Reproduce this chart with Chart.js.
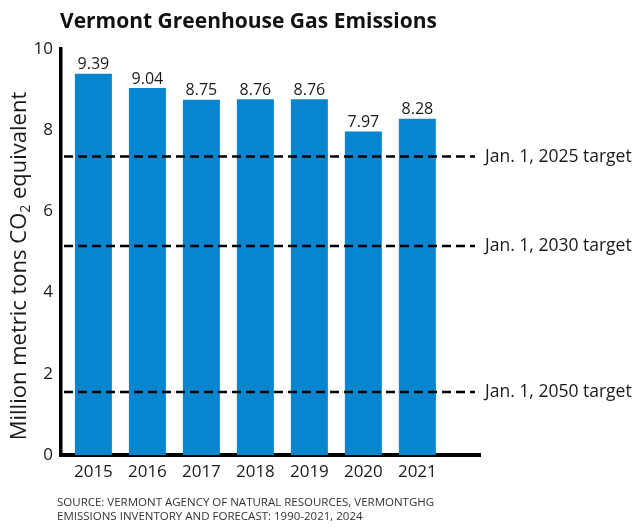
<!DOCTYPE html>
<html>
<head>
<meta charset="utf-8">
<script src="https://cdn.jsdelivr.net/npm/chart.js@4"></script>
<style>
  html, body { margin: 0; padding: 0; background: #fff; }
  #wrap { width: 640px; height: 530px; position: relative; }
</style>
</head>
<body>
<div id="wrap"><canvas id="c" width="640" height="530"></canvas></div>
<script>
const years = [2015, 2016, 2017, 2018, 2019, 2020, 2021];
const emissions = [9.39, 9.04, 8.75, 8.76, 8.76, 7.97, 8.28];
const yTicks = [0, 2, 4, 6, 8, 10];
const targetValues = [7.35, 5.15, 1.55];
const targetLabels = ['Jan. 1, 2025 target', 'Jan. 1, 2030 target', 'Jan. 1, 2050 target'];
const titleText = 'Vermont Greenhouse Gas Emissions';
const yTitleParts = ['Million metric tons CO', '2', ' equivalent'];
const sourceLines = ['SOURCE: VERMONT AGENCY OF NATURAL RESOURCES, VERMONTGHG',
                     'EMISSIONS INVENTORY AND FORECAST: 1990-2021, 2024'];

const FONT = '"Open Sans", "Noto Sans", sans-serif';
const BAR = '#0786cf';

const extras = {
  id: 'extras',
  afterDatasetsDraw(chart) {
    const ctx = chart.ctx;
    const area = chart.chartArea;
    const y = chart.scales.y;
    // value labels
    const meta = chart.getDatasetMeta(0);
    ctx.save();
    ctx.fillStyle = '#1a1a1a';
    ctx.font = '16px ' + FONT;
    ctx.textAlign = 'center';
    ctx.textBaseline = 'bottom';
    meta.data.forEach((bar, i) => {
      ctx.fillText(emissions[i].toFixed(2), bar.x, bar.y - 1);
    });
    // target lines
    ctx.strokeStyle = '#000';
    ctx.lineWidth = 2.5;
    ctx.setLineDash([9, 5]);
    ctx.font = '17.5px ' + FONT;
    ctx.textAlign = 'left';
    ctx.textBaseline = 'middle';
    targetValues.forEach((v, i) => {
      const py = y.getPixelForValue(v);
      ctx.beginPath();
      ctx.moveTo(area.left + 3, py);
      ctx.lineTo(area.right - 5, py);
      ctx.stroke();
      ctx.fillText(targetLabels[i], area.right + 5, py);
    });
    ctx.setLineDash([]);
    // title
    ctx.fillStyle = '#111';
    ctx.font = 'bold 21px ' + FONT;
    ctx.textBaseline = 'alphabetic';
    ctx.fillText(titleText, 60, 28);
    // y axis title with subscript
    ctx.fillStyle = '#1a1a1a';
    const mainF = '22px ' + FONT, subF = '14px ' + FONT;
    ctx.font = mainF;
    const w0 = ctx.measureText(yTitleParts[0]).width;
    const w2 = ctx.measureText(yTitleParts[2]).width;
    ctx.font = subF;
    const w1 = ctx.measureText(yTitleParts[1]).width;
    const total = w0 + w1 + w2;
    ctx.save();
    ctx.translate(26, 266);
    ctx.rotate(-Math.PI / 2);
    ctx.textAlign = 'left';
    ctx.textBaseline = 'alphabetic';
    let cx = -total / 2;
    ctx.font = mainF;
    ctx.fillText(yTitleParts[0], cx, 0); cx += w0;
    ctx.font = subF;
    ctx.fillText(yTitleParts[1], cx, 4); cx += w1;
    ctx.font = mainF;
    ctx.fillText(yTitleParts[2], cx, 0);
    ctx.restore();
    // source
    ctx.fillStyle = '#333';
    ctx.font = '11.5px ' + FONT;
    ctx.textAlign = 'left';
    ctx.textBaseline = 'middle';
    ctx.fillText(sourceLines[0], 57, 503);
    ctx.fillText(sourceLines[1], 57, 517);
    ctx.restore();
  }
};

new Chart(document.getElementById('c'), {
  type: 'bar',
  data: {
    datasets: [{
      data: years.map((yr, i) => ({ x: yr, y: emissions[i] })),
      backgroundColor: BAR,
      borderWidth: 0,
      barPercentage: 0.685,
      categoryPercentage: 1
    }]
  },
  options: {
    responsive: false,
    animation: false,
    devicePixelRatio: 1,
    layout: { padding: { left: 0, right: 160, top: 49, bottom: 0 } },
    plugins: { legend: { display: false }, tooltip: { enabled: false } },
    scales: {
      x: {
        type: 'linear',
        offset: false,
        min: 2014.4,
        max: 2022.16,
        afterBuildTicks: s => { s.ticks = years.map(v => ({ value: v })); },
        afterFit: s => { s.height = 75; },
        grid: { display: false, drawTicks: false },
        border: { display: true, color: '#000', width: 4 },
        ticks: {
          color: '#1a1a1a',
          font: { family: FONT, size: 17 },
          padding: 7,
          maxRotation: 0,
          autoSkip: false,
          callback: v => String(v)
        }
      },
      y: {
        min: 0,
        max: 10,
        afterBuildTicks: s => { s.ticks = yTicks.map(v => ({ value: v })); },
        afterFit: s => { s.width = 61; },
        grid: { display: false, drawTicks: false },
        border: { display: true, color: '#000', width: 3.5 },
        ticks: {
          color: '#1a1a1a',
          font: { family: FONT, size: 17 },
          padding: 8
        }
      }
    }
  },
  plugins: [extras]
});
</script>
</body>
</html>
